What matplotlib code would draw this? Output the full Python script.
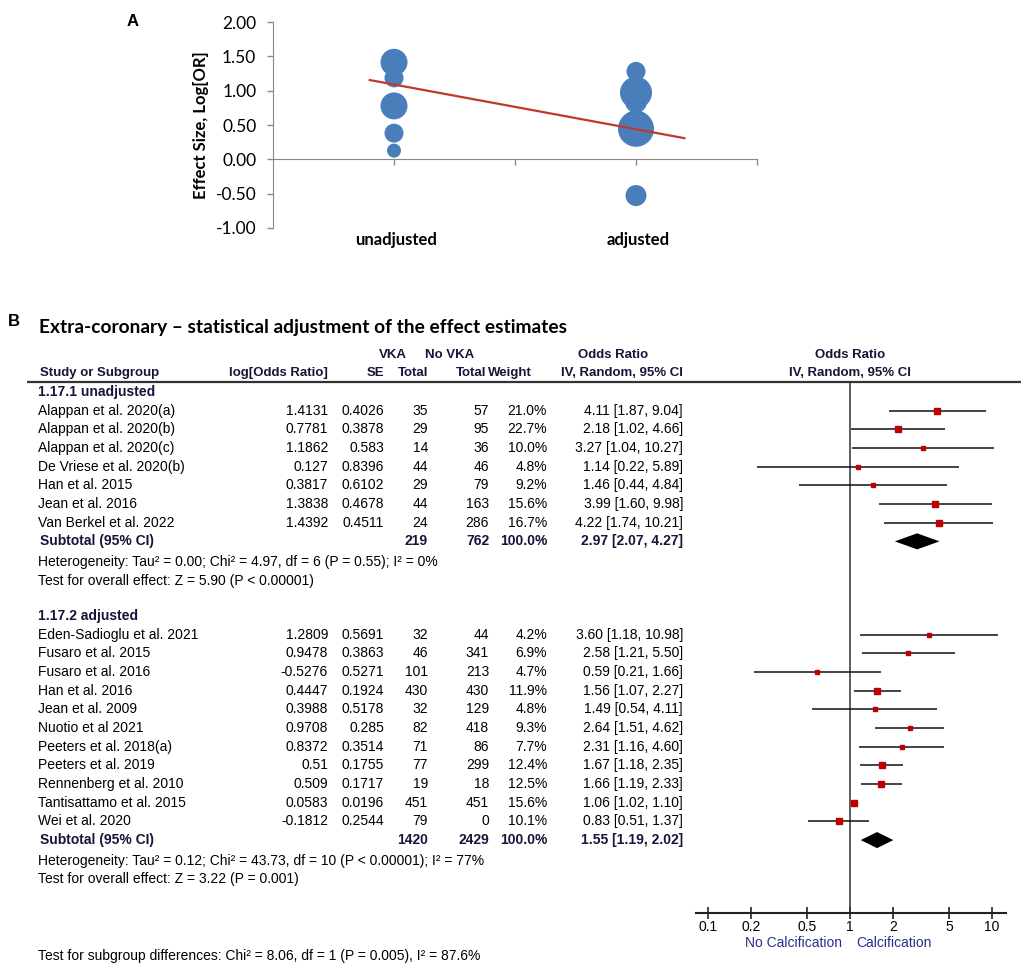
import numpy as np
import matplotlib.pyplot as plt

# ---- panel A data (bubble chart) ----
cat_labels = ['unadjusted', 'adjusted']
bubble_group = [1, 1, 1, 1, 1, 1, 1,
                2, 2, 2, 2, 2, 2, 2, 2, 2]
bubble_logor = [1.4131, 0.7781, 1.1862, 0.127, 0.3817, 1.3838, 1.4392,
                1.2809, 0.9478, 0.9708, 0.8372, 0.4447, 0.3988, 0.51, 0.509, -0.5276]
bubble_size = [27, 27, 19, 14, 19, 22, 22,
               19, 26, 32, 22, 36, 26, 28, 28, 21]

# ---- panel B data (forest plot) ----
studies_1 = ['Alappan et al. 2020(a)', 'Alappan et al. 2020(b)', 'Alappan et al. 2020(c)',
             'De Vriese et al. 2020(b)', 'Han et al. 2015', 'Jean et al. 2016',
             'Van Berkel et al. 2022']
logor_1 = [1.4131, 0.7781, 1.1862, 0.127, 0.3817, 1.3838, 1.4392]
se_1 = [0.4026, 0.3878, 0.583, 0.8396, 0.6102, 0.4678, 0.4511]
vka_1 = [35, 29, 14, 44, 29, 44, 24]
novka_1 = [57, 95, 36, 46, 79, 163, 286]
weight_1 = [21.0, 22.7, 10.0, 4.8, 9.2, 15.6, 16.7]
or_1 = [4.11, 2.18, 3.27, 1.14, 1.46, 3.99, 4.22]
lo_1 = [1.87, 1.02, 1.04, 0.22, 0.44, 1.60, 1.74]
hi_1 = [9.04, 4.66, 10.27, 5.89, 4.84, 9.98, 10.21]
sub_1 = dict(vka=219, novka=762, weight=100.0, orr=2.97, lo=2.07, hi=4.27)
het_1 = 'Heterogeneity: Tau² = 0.00; Chi² = 4.97, df = 6 (P = 0.55); I² = 0%'
test_1 = 'Test for overall effect: Z = 5.90 (P < 0.00001)'

studies_2 = ['Eden-Sadioglu et al. 2021', 'Fusaro et al. 2015', 'Fusaro et al. 2016',
             'Han et al. 2016', 'Jean et al. 2009', 'Nuotio et al 2021',
             'Peeters et al. 2018(a)', 'Peeters et al. 2019', 'Rennenberg et al. 2010',
             'Tantisattamo et al. 2015', 'Wei et al. 2020']
logor_2 = [1.2809, 0.9478, -0.5276, 0.4447, 0.3988, 0.9708, 0.8372, 0.51, 0.509, 0.0583, -0.1812]
se_2 = [0.5691, 0.3863, 0.5271, 0.1924, 0.5178, 0.285, 0.3514, 0.1755, 0.1717, 0.0196, 0.2544]
vka_2 = [32, 46, 101, 430, 32, 82, 71, 77, 19, 451, 79]
novka_2 = [44, 341, 213, 430, 129, 418, 86, 299, 18, 451, 0]
weight_2 = [4.2, 6.9, 4.7, 11.9, 4.8, 9.3, 7.7, 12.4, 12.5, 15.6, 10.1]
or_2 = [3.60, 2.58, 0.59, 1.56, 1.49, 2.64, 2.31, 1.67, 1.66, 1.06, 0.83]
lo_2 = [1.18, 1.21, 0.21, 1.07, 0.54, 1.51, 1.16, 1.18, 1.19, 1.02, 0.51]
hi_2 = [10.98, 5.50, 1.66, 2.27, 4.11, 4.62, 4.60, 2.35, 2.33, 1.10, 1.37]
sub_2 = dict(vka=1420, novka=2429, weight=100.0, orr=1.55, lo=1.19, hi=2.02)
het_2 = 'Heterogeneity: Tau² = 0.12; Chi² = 43.73, df = 10 (P < 0.00001); I² = 77%'
test_2 = 'Test for overall effect: Z = 3.22 (P = 0.001)'
subgroup_test = 'Test for subgroup differences: Chi² = 8.06, df = 1 (P = 0.005), I² = 87.6%'

or_ticks = [0.1, 0.2, 0.5, 1, 2, 5, 10]

# ---- figure / layout helpers (pixel based) ----
W, H = 1021, 963
fig = plt.figure(figsize=(W / 100, H / 100), dpi=100)

def fx(px):
    return px / W

def fy(py):
    return 1 - py / H

ROW0, ROWH = 392.0, 18.67

def row_of(py):
    return (py - ROW0) / ROWH

blue = '#4a7ebb'
red_line = '#c0392b'
grey = '#888888'
font_a = ['Lato', 'DejaVu Sans']
font_b = ['Liberation Sans', 'DejaVu Sans']

# ---------------- panel A ----------------
ax_a = fig.add_axes([fx(273), fy(228), (757 - 273) / W, (228 - 22) / H])
ax_a.set_xlim(0.5, 2.5)
ax_a.set_ylim(-1, 2)
diam = np.array(bubble_size) * 0.72
ax_a.scatter(bubble_group, bubble_logor, s=diam ** 2, color=blue, edgecolors='none', zorder=3)

# weighted fit through all studies
fit_x = np.array([1] * len(logor_1) + [2] * len(logor_2))
fit_y = np.array(logor_1 + logor_2)
fit_w = np.sqrt(np.array(weight_1 + weight_2))
k, b = np.polyfit(fit_x, fit_y, 1, w=fit_w)
xl = np.array([0.9, 2.2])
ax_a.plot(xl, k * xl + b, color=red_line, lw=1.6, zorder=4)

for s in ['top', 'right']:
    ax_a.spines[s].set_visible(False)
ax_a.spines['left'].set_color(grey)
ax_a.spines['bottom'].set_color(grey)
ax_a.spines['bottom'].set_position(('data', 0))
ax_a.set_yticks(np.arange(-1, 2.01, 0.5))
ax_a.set_yticklabels([f'{v:.2f}' for v in np.arange(-1, 2.01, 0.5)],
                     fontsize=12.5, family=font_a)
ax_a.set_xticks([1, 1.5, 2, 2.5])
ax_a.set_xticklabels([])
ax_a.tick_params(axis='both', color=grey, length=4, width=1)
ax_a.tick_params(axis='y', pad=8)
for i, lab in enumerate(cat_labels):
    ax_a.text(i + 1.01, -0.06, lab, transform=ax_a.get_xaxis_transform(),
              ha='center', va='center', fontsize=12, fontweight='bold', family=font_a)
ax_a.set_ylabel('Effect Size, Log[OR]', fontsize=12, fontweight='bold', family=font_a,
                labelpad=5)
fig.text(fx(133), fy(21), 'A', fontsize=12, fontweight='bold', family=font_b,
         ha='center', va='center')

# ---------------- panel B : table ----------------
ax_t = fig.add_axes([0, 0, 1, fy(330)])
ax_t.set_xlim(0, W)
ax_t.set_ylim(row_of(963), row_of(330))
ax_t.axis('off')

fig.text(fx(14), fy(322), 'B', fontsize=12, fontweight='bold', family=font_b,
         ha='center', va='center')
ax_t.text(39, row_of(327), 'Extra-coronary \u2013 statistical adjustment of the effect estimates',
          fontsize=13.8, fontweight='bold', family=font_a, ha='left', va='center')

dark = '#15153a'
hdr = dict(fontsize=9.5, fontweight='bold', family=font_b, va='center', color=dark)
r1, r2 = row_of(355), row_of(373)
ax_t.text(393, r1, 'VKA', ha='center', **hdr)
ax_t.text(450, r1, 'No VKA', ha='center', **hdr)
ax_t.text(613, r1, 'Odds Ratio', ha='center', **hdr)
ax_t.text(40, r2, 'Study or Subgroup', ha='left', **hdr)
ax_t.text(328, r2, 'log[Odds Ratio]', ha='right', **hdr)
ax_t.text(384, r2, 'SE', ha='right', **hdr)
ax_t.text(428, r2, 'Total', ha='right', **hdr)
ax_t.text(486, r2, 'Total', ha='right', **hdr)
ax_t.text(532, r2, 'Weight', ha='right', **hdr)
ax_t.text(683, r2, 'IV, Random, 95% CI', ha='right', **hdr)
ax_t.plot([27, W], [row_of(382.3)] * 2, color='#333333', lw=1.6, solid_capstyle='butt')

reg = dict(fontsize=10, family=font_b, va='center', color='black')
bold = dict(fontsize=10, fontweight='bold', family=font_b, va='center', color=dark)

def table_block(start, title, studies, logor, se, vka, novka, weight, orr, lo, hi, sub, het, test):
    ax_t.text(38, start, title, ha='left', **bold)
    for i in range(len(studies)):
        r = start + 1 + i
        ax_t.text(38, r, studies[i], ha='left', **reg)
        ax_t.text(328, r, str(logor[i]), ha='right', **reg)
        ax_t.text(384, r, str(se[i]), ha='right', **reg)
        ax_t.text(428, r, str(vka[i]), ha='right', **reg)
        ax_t.text(489, r, str(novka[i]), ha='right', **reg)
        ax_t.text(547, r, f'{weight[i]:.1f}%', ha='right', **reg)
        ax_t.text(683, r, f'{orr[i]:.2f} [{lo[i]:.2f}, {hi[i]:.2f}]', ha='right', **reg)
    r = start + 1 + len(studies)
    ax_t.text(40, r, 'Subtotal (95% CI)', ha='left', **bold)
    ax_t.text(428, r, str(sub['vka']), ha='right', **bold)
    ax_t.text(489, r, str(sub['novka']), ha='right', **bold)
    ax_t.text(547, r, f"{sub['weight']:.1f}%", ha='right', **bold)
    ax_t.text(683, r, f"{sub['orr']:.2f} [{sub['lo']:.2f}, {sub['hi']:.2f}]", ha='right', **bold)
    ax_t.text(38, r + 1.1, het, ha='left', **reg)
    ax_t.text(38, r + 2.1, test, ha='left', **reg)

start_1 = 0
start_2 = start_1 + len(studies_1) + 5
table_block(start_1, '1.17.1 unadjusted', studies_1, logor_1, se_1, vka_1, novka_1,
            weight_1, or_1, lo_1, hi_1, sub_1, het_1, test_1)
table_block(start_2, '1.17.2 adjusted', studies_2, logor_2, se_2, vka_2, novka_2,
            weight_2, or_2, lo_2, hi_2, sub_2, het_2, test_2)
ax_t.text(38, row_of(956), subgroup_test, ha='left', **reg)

# ---------------- panel B : forest ----------------
ax_f = fig.add_axes([fx(696), fy(913.3), (1006 - 696) / W, (913.3 - 382.3) / H])
ax_f.patch.set_alpha(0)
ax_f.set_xscale('log')
ax_f.set_xlim(10 ** (-1 - 12 / 142), 10 ** (1 + 14 / 142))
ax_f.set_ylim(row_of(913.3), row_of(382.3))
for s in ['top', 'right', 'left']:
    ax_f.spines[s].set_visible(False)
ax_f.spines['bottom'].set_linewidth(1.5)
ax_f.spines['bottom'].set_color('#222222')
ax_f.set_yticks([])
ax_f.set_xticks(or_ticks)
ax_f.set_xticklabels([f'{t:g}' for t in or_ticks], fontsize=10, family=font_b)
ax_f.minorticks_off()
ax_f.tick_params(axis='x', direction='inout', length=8, width=1.2, pad=1, color='#222222')
ax_f.axvline(1, color='#333333', lw=1.1)

sq_red = '#c00000'

def forest_block(start, orr, lo, hi, weight, sub):
    rows = start + 1 + np.arange(len(orr))
    ax_f.hlines(rows, lo, hi, color='#111111', lw=1.1)
    for r, o, w in zip(rows, orr, weight):
        side = 1.2 * np.sqrt(w) + 1.2
        ax_f.plot(o, r, marker='s', ms=side * 0.72, color=sq_red, mec=sq_red, ls='none')
    rd = start + 1 + len(orr)
    h = 0.43
    ax_f.fill([sub['lo'], sub['orr'], sub['hi'], sub['orr']],
              [rd, rd - h, rd, rd + h], color='black', lw=0)

forest_block(start_1, or_1, lo_1, hi_1, weight_1, sub_1)
forest_block(start_2, or_2, lo_2, hi_2, weight_2, sub_2)

fhdr = dict(fontsize=9.5, fontweight='bold', family=font_b, va='center', ha='center',
            color=dark, transform=ax_f.get_xaxis_transform(), clip_on=False)
ytop = 1 + (382.3 - 355) / (913.3 - 382.3)
ytop2 = 1 + (382.3 - 373) / (913.3 - 382.3)
ax_f.text(1, ytop, 'Odds Ratio', **fhdr)
ax_f.text(1, ytop2, 'IV, Random, 95% CI', **fhdr)

navy = '#283088'
ylab = -(943 - 913.3) / (913.3 - 382.3)
ax_f.text(0.88, ylab, 'No Calcification', ha='right', va='center', fontsize=10,
          family=font_b, color=navy, transform=ax_f.get_xaxis_transform())
ax_f.text(1.1, ylab, 'Calcification', ha='left', va='center', fontsize=10,
          family=font_b, color=navy, transform=ax_f.get_xaxis_transform())

fig.savefig('out.png', dpi=100)
